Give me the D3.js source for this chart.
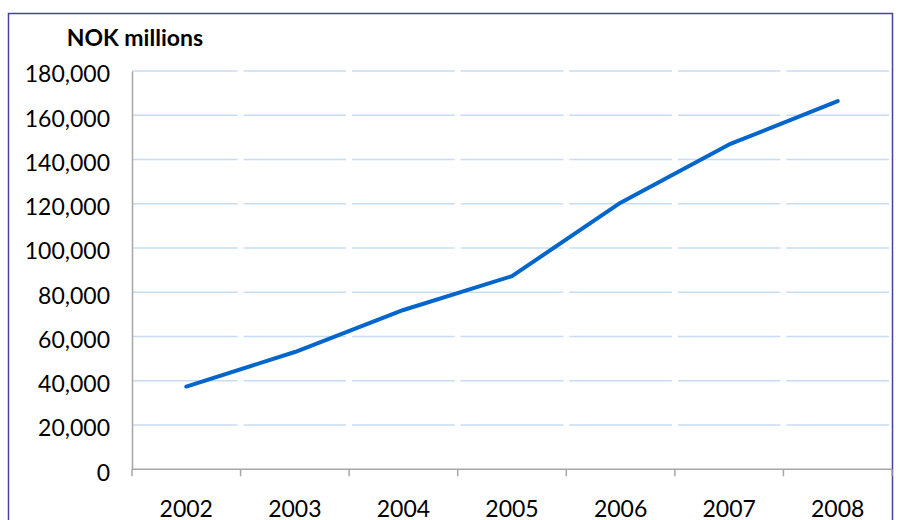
<!DOCTYPE html>
<html>
<head>
<meta charset="utf-8">
<script src="https://cdn.jsdelivr.net/npm/d3@7"></script>
<style>
  html, body { margin: 0; padding: 0; background: #ffffff; }
  svg { display: block; }
  text { font-family: Lato, "Open Sans", sans-serif; fill: #000; }
</style>
</head>
<body>
<svg id="chart" width="901" height="520"></svg>
<script>
// Annual totals, NOK millions
const years = ["2002", "2003", "2004", "2005", "2006", "2007", "2008"];
const values = [37400, 53000, 72000, 87300, 120500, 146800, 166400];
const yTicks = [0, 20000, 40000, 60000, 80000, 100000, 120000, 140000, 160000, 180000];
const unitLabel = "NOK millions";

const svg = d3.select("#chart");
const plotLeft = 132, plotRight = 892, plotTop = 71, plotBottom = 469.3;

// frame around the chart area
svg.append("rect")
  .attr("x", 8.5).attr("y", 13.5)
  .attr("width", 884).attr("height", 520)
  .attr("fill", "#ffffff")
  .attr("stroke", "#44449c")
  .attr("stroke-width", 1.5);

const x = d3.scaleBand().domain(years).range([plotLeft, plotRight]).paddingInner(0).paddingOuter(0);
const y = d3.scaleLinear().domain([0, 180000]).range([plotBottom, plotTop]);
const bw = x.bandwidth();

// horizontal gridlines, broken at each category boundary
const grid = svg.append("g");
yTicks.filter(v => v > 0).forEach(v => {
  years.forEach((yr, i) => {
    const x0 = i === 0 ? plotLeft : x(yr) + 3;
    const x1 = x(yr) + bw - 3;
    grid.append("line")
      .attr("x1", x0).attr("x2", x1)
      .attr("y1", y(v)).attr("y2", y(v))
      .attr("stroke", "#c6dcf2")
      .attr("stroke-width", 1.6);
  });
});

// y axis labels
const yAxis = d3.axisLeft(y).tickValues(yTicks).tickSize(0).tickPadding(0)
  .tickFormat(d3.format(","));
const gy = svg.append("g").attr("transform", `translate(${plotLeft},0)`).call(yAxis);
gy.select(".domain").attr("stroke", "#a6a6a6").attr("stroke-width", 1.5);
gy.selectAll("text")
  .attr("x", 110 - plotLeft)
  .attr("dy", "10.9")
  .attr("text-anchor", "end")
  .style("font-family", "Lato, sans-serif")
  .style("font-size", "23px")
  .style("fill", "#000");

// x axis with ticks on category boundaries
const gx = svg.append("g").attr("transform", `translate(0,${plotBottom})`);
gx.append("line")
  .attr("x1", plotLeft).attr("x2", plotRight)
  .attr("y1", 0).attr("y2", 0)
  .attr("stroke", "#a6a6a6").attr("stroke-width", 1.5);
const bounds = years.map(yr => x(yr)).concat([plotRight]);
gx.selectAll("line.tick").data(bounds).enter().append("line")
  .attr("class", "tick")
  .attr("x1", d => d).attr("x2", d => d)
  .attr("y1", 0).attr("y2", 7)
  .attr("stroke", "#a6a6a6").attr("stroke-width", 1.5);
gx.selectAll("text").data(years).enter().append("text")
  .attr("x", d => x(d) + bw / 2)
  .attr("y", 517 - plotBottom)
  .attr("text-anchor", "middle")
  .style("font-size", "23px")
  .text(d => d);

// data line
const line = d3.line()
  .x((d, i) => x(years[i]) + bw / 2)
  .y(d => y(d));
svg.append("path")
  .datum(values)
  .attr("d", line)
  .attr("fill", "none")
  .attr("stroke", "#0066cc")
  .attr("stroke-width", 4)
  .attr("stroke-linejoin", "round")
  .attr("stroke-linecap", "round");

// unit title
svg.append("text")
  .attr("x", 66.7).attr("y", 45.7)
  .style("font-size", "23px")
  .style("font-weight", "bold")
  .text(unitLabel);
</script>
</body>
</html>
